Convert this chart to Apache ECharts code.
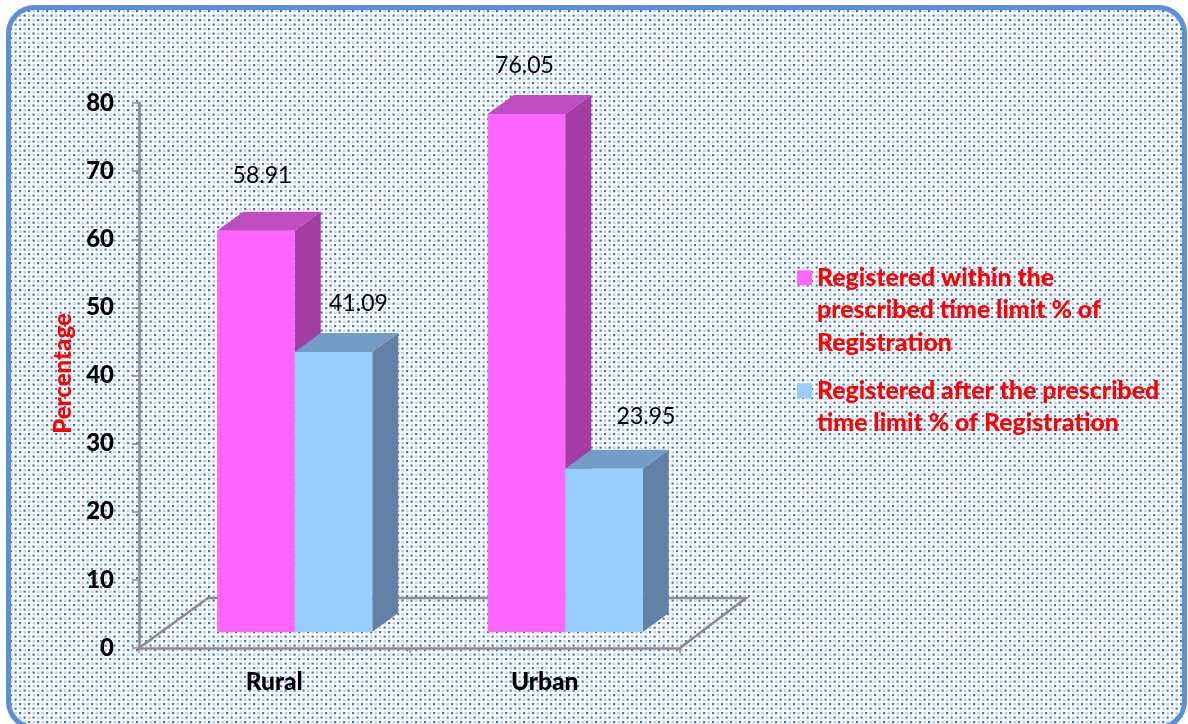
<!DOCTYPE html>
<html>
<head>
<meta charset="utf-8">
<style>html,body{margin:0;padding:0;background:#fff}#c{width:1188px;height:724px}</style>
<script src="https://cdn.jsdelivr.net/npm/echarts@6/dist/echarts.min.js"></script>
</head>
<body>
<div id="c"></div>
<script>
const categories = ['Rural', 'Urban'];
const withinName = 'Registered within the prescribed time limit % of Registration';
const afterName = 'Registered after the prescribed time limit % of Registration';
const withinValues = [58.91, 76.05];
const afterValues = [41.09, 23.95];
const yAxisTitle = 'Percentage';
const legendWrapped = {};
// leading blank lines centre the first real line on the legend swatch
legendWrapped[withinName] = '\n\nRegistered within the\nprescribed time limit % of\nRegistration';
legendWrapped[afterName] = '\nRegistered after the prescribed\ntime limit % of Registration';

const FONT = 'Lato';
const tile = document.createElement('canvas');
tile.width = 9; tile.height = 9;
(function () {
  const g = tile.getContext('2d');
  g.fillStyle = '#ffffff'; g.fillRect(0, 0, 9, 9);
  g.fillStyle = '#3f76bb';
  g.fillRect(1, 1, 2.2, 2.2); g.fillRect(5.5, 5.5, 2.2, 2.2);
  g.fillStyle = '#bcd2ec';
  g.fillRect(5.5, 1, 2.5, 2.5); g.fillRect(1, 5.5, 2.5, 2.5);
})();

const DEPTH_X = 26, DEPTH_Y = 19, FLOOR_LIFT = 16, BAR_FRAC = 0.2865, SHARED_EDGE = 20.5;
const nudges = { within: [[6, -55], [-2, -48]], after: [[25, -48], [42, -52]] };

function barSeries(name, values, key, colors, isLeft) {
  return {
    type: 'custom', name: name, coordinateSystem: 'cartesian2d', z: isLeft ? 3 : 4,
    itemStyle: { color: colors.front },
    data: values.map((v, i) => [i, v]),
    encode: { x: 0, y: 1 },
    renderItem: function (params, api) {
      const c = api.value(0), v = api.value(1);
      const band = api.size([1, 0])[0];
      const w = band * BAR_FRAC;
      const cx = api.coord([c, 0])[0] + SHARED_EDGE;
      const x0 = isLeft ? cx - w : cx, x1 = x0 + w;
      const yb = api.coord([c, 0])[1] - FLOOR_LIFT;
      const yt = api.coord([c, v])[1] - FLOOR_LIFT;
      const n = nudges[key][params.dataIndex];
      const poly = (pts, fill) => ({ type: 'polygon', shape: { points: pts }, style: { fill: fill } });
      return { type: 'group', children: [
        poly([[x1, yb], [x1 + DEPTH_X, yb - DEPTH_Y], [x1 + DEPTH_X, yt - DEPTH_Y], [x1, yt]], colors.side),
        poly([[x0, yt], [x1, yt], [x1 + DEPTH_X, yt - DEPTH_Y], [x0 + DEPTH_X, yt - DEPTH_Y]], colors.top),
        { type: 'rect', shape: { x: x0, y: yt, width: w, height: yb - yt }, style: { fill: colors.front } },
        { type: 'text', style: { x: (x0 + x1) / 2 + n[0], y: yt + n[1], text: v.toFixed(2), fill: '#000',
            font: '23px ' + FONT, align: 'center', verticalAlign: 'middle' } }
      ] };
    }
  };
}

const floorSeries = {
  type: 'custom', name: 'floor', coordinateSystem: 'cartesian2d', silent: true, z: 1,
  data: [[0, 0]], encode: { x: 0, y: 1 },
  renderItem: function (params, api) {
    const s = params.coordSys, b = s.y + s.height, r = s.x + s.width;
    return { type: 'polyline', shape: { points: [[s.x, b], [s.x + 69, b - 50], [r + 66, b - 50], [r, b]] },
      style: { stroke: '#8c8c8c', lineWidth: 2.6, fill: null } };
  }
};

const legendBase = {
  orient: 'vertical', left: 797, padding: 0, selectedMode: false, icon: 'rect', itemWidth: 15, itemHeight: 15,
  formatter: n => legendWrapped[n]
};
const legendText = { color: '#ff0000', fontFamily: FONT, fontWeight: 900, fontSize: 24.8, lineHeight: 32.5 };

const chart = echarts.init(document.getElementById('c'), null, { renderer: 'canvas' });
chart.setOption({
  animation: false,
  backgroundColor: '#ffffff',
  graphic: [{ type: 'rect', z: -10, silent: true,
    shape: { x: 8.5, y: 7.5, width: 1176, height: 720, r: 26 },
    style: { fill: { image: tile, repeat: 'repeat' }, stroke: '#5b8fd6', lineWidth: 5 } }],
  grid: { left: 139, top: 103, width: 541, height: 545 },
  legend: [
    Object.assign({}, legendBase, { top: 196.5, data: [withinName], textStyle: legendText }),
    Object.assign({}, legendBase, { top: 342, data: [afterName], textStyle: legendText })
  ],
  xAxis: { type: 'category', data: categories,
    axisLine: { lineStyle: { color: '#8c8c8c', width: 2.6 } },
    axisTick: { show: true, length: 5, lineStyle: { color: '#8c8c8c', width: 1.5 } },
    axisLabel: { color: '#000', fontFamily: FONT, fontWeight: 900, fontSize: 24.5, margin: 22 },
    splitLine: { show: false } },
  yAxis: { type: 'value', min: 0, max: 80, interval: 10,
    name: yAxisTitle, nameLocation: 'middle', nameRotate: 90, nameGap: 64,
    nameTextStyle: { color: '#ff0000', fontFamily: FONT, fontWeight: 900, fontSize: 24, padding: [0, 0, 0, 4] },
    axisLine: { show: true, lineStyle: { color: '#8c8c8c', width: 2.6 } },
    axisTick: { show: true, length: 7, lineStyle: { color: '#8c8c8c', width: 1.5 } },
    axisLabel: { color: '#000', fontFamily: FONT, fontWeight: 900, fontSize: 24, margin: 25 },
    splitLine: { show: false } },
  series: [
    floorSeries,
    barSeries(withinName, withinValues, 'within', { front: '#ff66ff', top: '#bf4dbf', side: '#a33da3' }, true),
    barSeries(afterName, afterValues, 'after', { front: '#99ccff', top: '#739dc6', side: '#6380a5' }, false)
  ]
});
</script>
</body>
</html>
